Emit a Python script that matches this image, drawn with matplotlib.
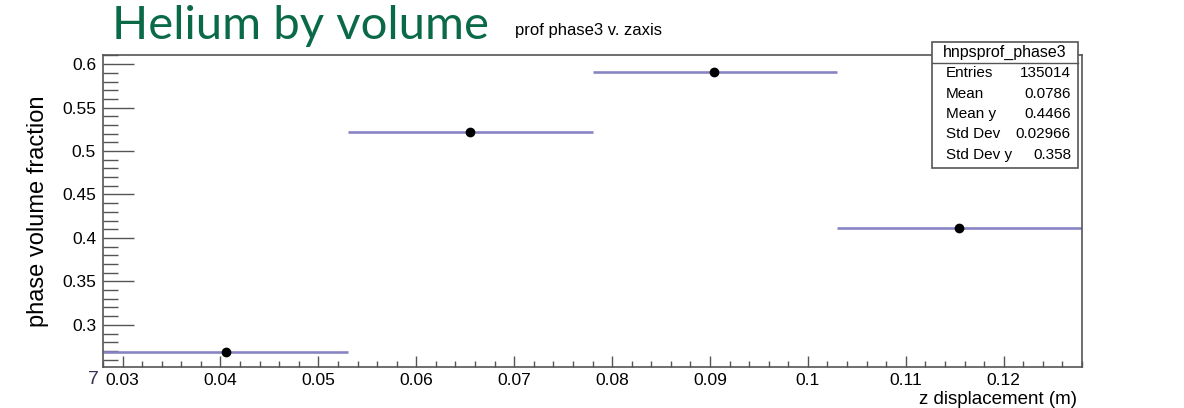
import numpy as np
import matplotlib.pyplot as plt
from matplotlib.patches import Rectangle
from matplotlib.ticker import MultipleLocator

# profile bins (z displacement, m) and mean phase fraction per bin
bin_edges = [0.028, 0.053, 0.078, 0.103, 0.128]
z_mean = [0.0406, 0.0655, 0.0904, 0.1154]
phase_frac = [0.269, 0.522, 0.591, 0.412]

stat_names = ["Entries", "Mean", "Mean y", "Std Dev", "Std Dev y"]
stat_vals = ["135014", "0.0786", "0.4466", "0.02966", "0.358"]

plt.rcParams['font.family'] = ['Liberation Sans', 'DejaVu Sans']

W, H = 1184, 408
fig = plt.figure(figsize=(W / 100, H / 100), dpi=100)
ax = fig.add_axes([103 / W, 1 - 367 / H, (1082 - 103) / W, (367 - 55) / H])

lo = np.array(bin_edges[:-1])
hi = np.array(bin_edges[1:])
ax.hlines(phase_frac, lo, hi, color='#8884c4', lw=1.9, zorder=2)
ax.plot(z_mean, phase_frac, 'o', color='black', ms=6, zorder=3)

ax.set_xlim(bin_edges[0], bin_edges[-1])
ax.set_ylim(0.2515, 0.6105)
ax.xaxis.set_major_locator(MultipleLocator(0.01))
ax.xaxis.set_minor_locator(MultipleLocator(0.002))
ax.yaxis.set_major_locator(MultipleLocator(0.05))
ax.yaxis.set_minor_locator(MultipleLocator(0.01))
ax.xaxis.set_major_formatter(plt.FuncFormatter(lambda v, p: '%g' % round(v, 3)))
ax.yaxis.set_major_formatter(plt.FuncFormatter(lambda v, p: '%g' % round(v, 3)))

ax.tick_params(axis='x', which='major', direction='in', length=8, width=1, color='#555555', labelsize=12.5, pad=4)
ax.tick_params(axis='x', which='minor', direction='in', length=4, width=1, color='#555555')
ax.tick_params(axis='y', which='major', direction='in', length=22, width=1, color='#555555', labelsize=12.5, pad=5)
ax.tick_params(axis='y', which='minor', direction='in', length=11, width=1, color='#555555')
for s in ax.spines.values():
    s.set_color('#555555')
    s.set_linewidth(1.2)

fig.text(38 / W, 1 - 211 / H, 'phase volume fraction', fontsize=17, rotation=90, ha='center', va='center')
fig.text(1077 / W, 1 - 400 / H, 'z displacement (m)', fontsize=13.5, ha='right', va='center')
fig.text(93 / W, 1 - 380 / H, '7', fontsize=14, ha='center', va='center', color='#333355')

# titles
fig.text(112 / W, 1 - 26 / H, 'Helium by volume', fontsize=34, color='#0a6a48',
         family=['Lato', 'DejaVu Sans'], ha='left', va='center')
fig.text(515 / W, 1 - 31 / H, 'prof phase3 v. zaxis', fontsize=12, ha='left', va='center')

# stats box
bx0, bx1, by0, by1 = 932, 1078, 42, 168
fig.patches.append(Rectangle((bx0 / W, 1 - by1 / H), (bx1 - bx0) / W, (by1 - by0) / H,
                             transform=fig.transFigure, facecolor='white',
                             edgecolor='#555555', lw=1.2, zorder=5))
fig.lines.append(plt.Line2D([bx0 / W, bx1 / W], [1 - 63 / H, 1 - 63 / H],
                            transform=fig.transFigure, color='#555555', lw=1.0, zorder=6))
fig.text((bx0 + bx1) / 2 / W, 1 - 52 / H, 'hnpsprof_phase3', fontsize=11.5, ha='center', va='center', zorder=7)
for i, (n, v) in enumerate(zip(stat_names, stat_vals)):
    yy = 1 - (73 + i * 20.5) / H
    fig.text(946 / W, yy, n, fontsize=11, ha='left', va='center', zorder=7)
    fig.text(1071 / W, yy, v, fontsize=11, ha='right', va='center', zorder=7)

fig.savefig('out.png', dpi=100)
